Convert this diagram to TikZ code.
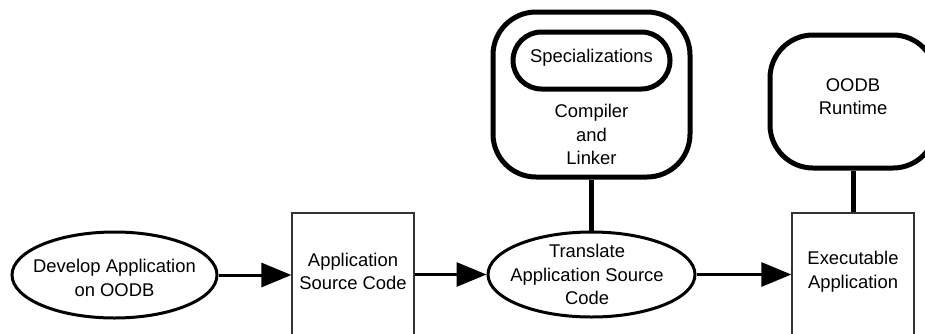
\documentclass[tikz,border=0pt]{standalone}
\usepackage{fontspec}
\setmainfont{Liberation Sans}
\usetikzlibrary{arrows.meta,shapes.geometric}
\begin{document}
\begin{tikzpicture}[x=1pt,y=-1pt,
  txt/.style={font=\fontsize{18.4}{23.5}\selectfont, align=center, inner sep=0pt},
  oval/.style={ellipse, draw, line width=3pt, inner sep=0pt},
  docbox/.style={rectangle, draw=black!80, line width=1.3pt, inner sep=0pt},
  tool/.style={rectangle, draw, line width=5pt, inner sep=0pt},
  flow/.style={line width=3pt, -{Triangle[length=30pt,width=24pt]}},
  link/.style={line width=5pt}]
\useasboundingbox (0,0) rectangle (925,333);
\clip (0,0) rectangle (925,333);
% shapes
\node[oval, minimum width=205pt, minimum height=86pt] (dev) at (114.5,275) {};
\node[docbox, minimum width=122pt, minimum height=140pt] (src) at (353,283) {};
\node[oval, minimum width=207pt, minimum height=85pt] (tr) at (591.5,274.5) {};
\node[docbox, minimum width=122pt, minimum height=140pt] (exe) at (853,283) {};
\node[tool, rounded corners=43pt, minimum width=197pt, minimum height=165pt] (cl) at (591.5,94.5) {};
\node[tool, rounded corners=28.5pt, minimum width=157pt, minimum height=57pt] (spec) at (591.5,60.5) {};
\node[tool, rounded corners=43pt, minimum width=166pt, minimum height=133pt] (rt) at (853,101.5) {};
% texts
\node[txt] (devt) at (114.5,278) {Develop Application\\on OODB};
\node[txt] (srct) at (353,271.5) {Application\\Source Code};
\node[txt] (trt) at (587,274.5) {Translate\\Application Source\\Code};
\node[txt] (exet) at (853,271.5) {Executable\\Application};
\node[txt] (spect) at (591.5,58) {Specializations};
\node[txt] (clt) at (591.5,134.5) {Compiler\\and\\Linker};
\node[txt] (rtt) at (853,96.5) {OODB\\Runtime};
% connectors
\draw[flow] (dev.east) -- (dev.east -| src.west);
\draw[flow] (tr.west -| src.east) -- (tr.west);
\draw[flow] (tr.east) -- (tr.east -| exe.west);
\draw[link] (cl.south) -- (tr.north);
\draw[link] (rt.south) -- (exe.north);
\end{tikzpicture}
\end{document}
